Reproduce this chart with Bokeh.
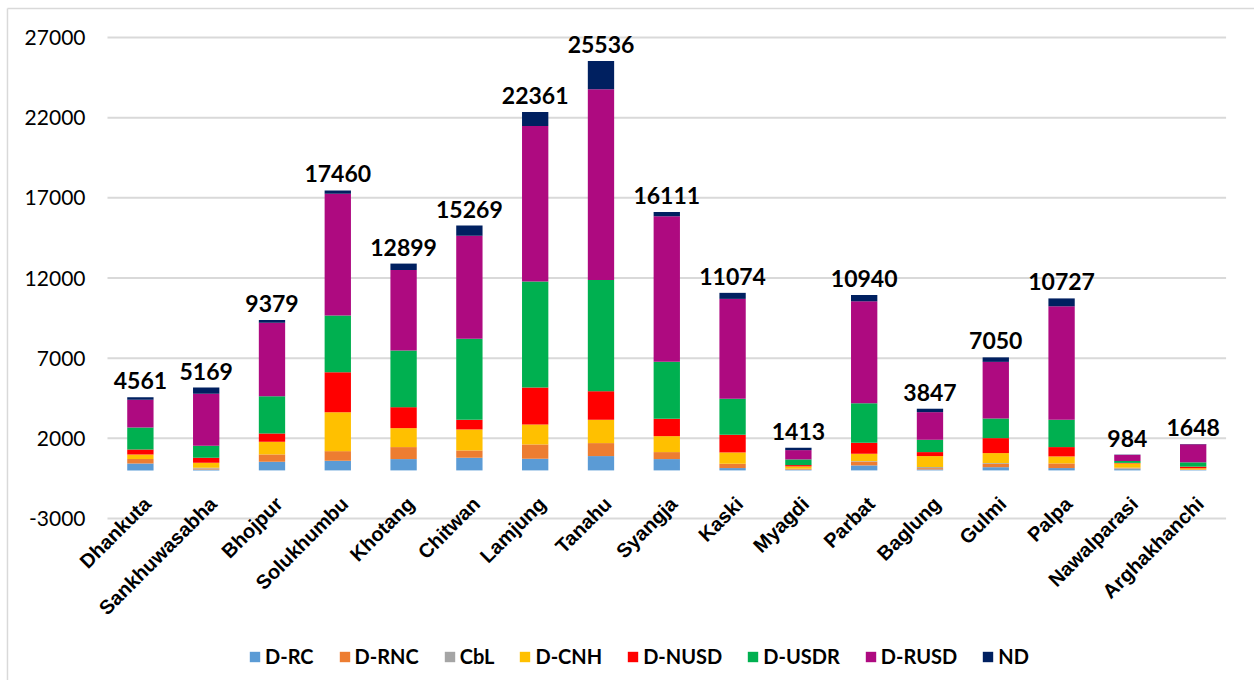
import math

from bokeh.core.properties import value
from bokeh.embed import file_html
from bokeh.models import ColumnDataSource, Legend, LegendItem, Range1d
from bokeh.plotting import figure
from bokeh.resources import INLINE

districts = ["Dhankuta", "Sankhuwasabha", "Bhojpur", "Solukhumbu", "Khotang",
             "Chitwan", "Lamjung", "Tanahu", "Syangja", "Kaski", "Myagdi",
             "Parbat", "Baglung", "Gulmi", "Palpa", "Nawalparasi", "Arghakhanchi"]

d_rc = [436, 60, 540, 602, 706, 790, 727, 893, 706, 145, 40, 311, 60, 200, 145, 80, 30]
d_rnc = [270, 60, 457, 600, 748, 455, 893, 810, 436, 270, 40, 240, 80, 208, 291, 40, 35]
cbl = [0, 46, 0, 0, 0, 0, 0, 0, 0, 0, 26, 30, 68, 49, 0, 48, 0]
d_cnh = [291, 312, 789, 2430, 1183, 1310, 1246, 1455, 995, 706, 143, 457, 685, 623, 436, 270, 70]
d_nusd = [311, 311, 519, 2493, 1307, 600, 2305, 1782, 1083, 1101, 83, 686, 249, 933, 582, 30, 100]
d_usdr = [1371, 748, 2325, 3532, 3532, 5050, 6604, 6940, 3550, 2245, 353, 2469, 769, 1227, 1704, 120, 270]
d_rusd = [1724, 3241, 4579, 7600, 5024, 6430, 9698, 11900, 9075, 6230, 580, 6354, 1723, 3530, 7078, 380, 1125]
nd = [158, 391, 170, 203, 399, 634, 888, 1756, 266, 377, 148, 393, 213, 280, 491, 16, 18]

series = ["D-RC", "D-RNC", "CbL", "D-CNH", "D-NUSD", "D-USDR", "D-RUSD", "ND"]
colors = ["#5B9BD5", "#ED7D31", "#A5A5A5", "#FFC000", "#FF0000", "#00B050", "#AE0A80", "#002060"]
y_ticks = [-3000, 2000, 7000, 12000, 17000, 22000, 27000]

columns = [d_rc, d_rnc, cbl, d_cnh, d_nusd, d_usdr, d_rusd, nd]
totals = [sum(vals) for vals in zip(*columns)]
n = len(districts)
slots = list(range(n))          # one slot per district along x

data = {"slot": slots, "district": districts, "total": totals,
        "total_text": [str(t) for t in totals], "zero": [0] * n}
for name, vals in zip(series, columns):
    data[name] = vals
source = ColumnDataSource(data)

tick_source = ColumnDataSource({"y": y_ticks, "label": [str(t) for t in y_ticks],
                                "x0": [-0.5] * len(y_ticks),
                                "x1": [n - 0.5] * len(y_ticks)})

FONT = "Lato"

# the plotting frame spans the whole canvas so that rotated names and tick
# labels can sit outside the bar area without being clipped
p = figure(width=1254, height=680, output_backend="svg", toolbar_location=None,
           x_range=Range1d(-2.126, n - 0.068), y_range=Range1d(-13104, 29308),
           min_border=0)
p.outline_line_color = None
p.axis.visible = False
p.grid.visible = False
p.background_fill_color = "white"
p.border_fill_color = "white"

# chart border
p.segment(x0=[-2.02, -2.02], y0=[28808, 28808], x1=[n + 1, -2.02], y1=[28808, -20000],
          line_color="#D9D9D9", line_width=1.5)

# horizontal gridlines and their labels
p.segment(x0="x0", y0="y", x1="x1", y1="y", source=tick_source,
          line_color="#D9D9D9", line_width=2)
p.text(x="x0", y="y", text="label", source=tick_source,
       text_align="right", text_baseline="middle", x_offset=-22,
       text_font=value(FONT), text_font_size="21px", text_color="black")

renderers = p.vbar_stack(series, x="slot", width=0.4, color=colors,
                         line_color=None, source=source)

# total above each stack
p.text(x="slot", y="total", text="total_text", source=source,
       text_align="center", text_baseline="bottom", y_offset=-8,
       text_font=value(FONT), text_font_style="bold",
       text_font_size="23px", text_color="black")

# rotated district names hanging below the zero line
p.text(x="slot", y="zero", text="district", source=source,
       angle=math.pi / 4, text_align="right", text_baseline="middle",
       x_offset=7, y_offset=30,
       text_font=value("Liberation Sans"), text_font_style="bold",
       text_font_size="20px", text_color="black")

legend = Legend(items=[LegendItem(label=s, renderers=[r]) for s, r in zip(series, renderers)],
                orientation="horizontal", location=(248, 12),
                glyph_width=13, glyph_height=13, label_standoff=4, spacing=24,
                padding=0, margin=0, border_line_color=None, background_fill_alpha=0,
                label_text_font=FONT, label_text_font_style="bold",
                label_text_font_size="20px", label_text_color="black")
p.add_layout(legend)

open("out.html", "w").write(file_html(p, INLINE))
